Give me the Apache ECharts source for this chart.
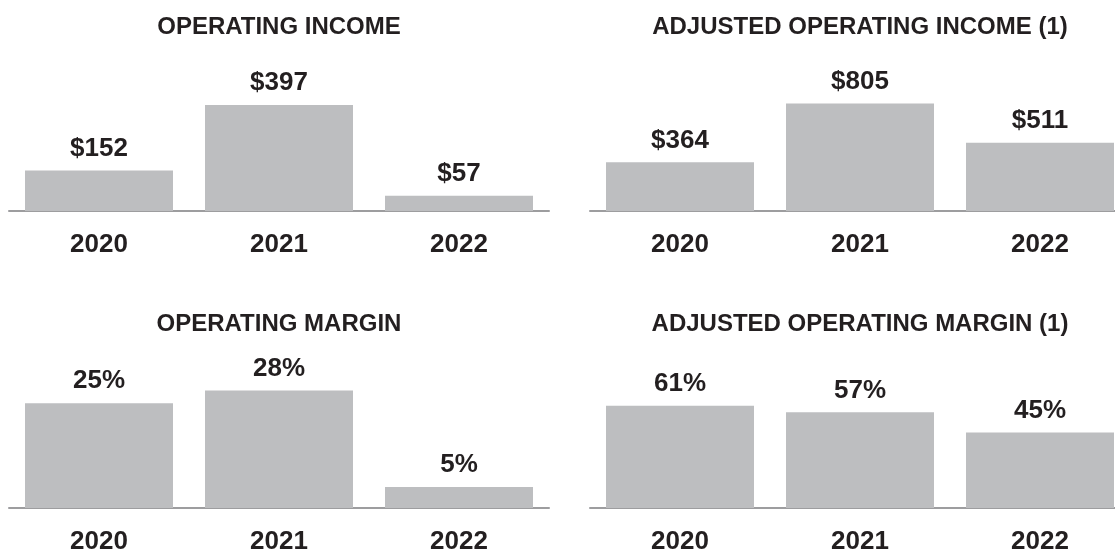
<!DOCTYPE html>
<html>
<head>
<meta charset="utf-8">
<script src="https://cdn.jsdelivr.net/npm/echarts@6/dist/echarts.min.js"></script>
<style>
  html, body { margin: 0; padding: 0; background: #fff; }
  #chart { width: 1115px; height: 552px; }
</style>
</head>
<body>
<div id="chart"></div>
<script>
// data
const years = ['2020', '2021', '2022'];
const operatingIncome = [152, 397, 57];
const adjustedOperatingIncome = [364, 805, 511];
const operatingMargin = [25, 28, 5];
const adjustedOperatingMargin = [61, 57, 45];

const panelTitles = [
  'OPERATING INCOME',
  'ADJUSTED OPERATING INCOME (1)',
  'OPERATING MARGIN',
  'ADJUSTED OPERATING MARGIN (1)'
];

const textColor = '#231f20';
const barColor = '#bdbec0';
const font = 'Liberation Sans, Arial, sans-serif';

const myChart = echarts.init(document.getElementById('chart'));

// 2x2 panels; the right column runs a bit past the page edge like the original
const grids = [
  { left: 9, top: 60, width: 540, height: 151, outerBoundsMode: 'none' },
  { left: 590, top: 60, width: 540, height: 151, outerBoundsMode: 'none' },
  { left: 9, top: 357, width: 540, height: 151, outerBoundsMode: 'none' },
  { left: 590, top: 357, width: 540, height: 151, outerBoundsMode: 'none' }
];
const yMax = [565, 1130, 36, 90];
const titleX = [279, 860, 279, 860];
const titleY = [15, 15, 312, 312];

const seriesData = [operatingIncome, adjustedOperatingIncome, operatingMargin, adjustedOperatingMargin];
const formatters = [
  (p) => '$' + p.value,
  (p) => '$' + p.value,
  (p) => p.value + '%',
  (p) => p.value + '%'
];

const option = {
  animation: false,
  backgroundColor: '#fff',
  title: panelTitles.map((t, i) => ({
    text: t,
    left: titleX[i],
    top: titleY[i],
    textAlign: 'center',
    padding: 0,
    textStyle: {
      fontFamily: font,
      fontSize: 24,
      fontWeight: 'bold',
      color: textColor
    }
  })),
  grid: grids,
  xAxis: grids.map((g, i) => ({
    type: 'category',
    gridIndex: i,
    data: years,
    axisTick: { show: false },
    axisLine: { lineStyle: { color: '#9d9d9f', width: 2 } },
    axisLabel: {
      margin: 21,
      fontFamily: font,
      fontSize: 26,
      fontWeight: 'bold',
      color: textColor
    }
  })),
  yAxis: grids.map((g, i) => ({
    type: 'value',
    gridIndex: i,
    min: 0,
    max: yMax[i],
    show: false,
    splitLine: { show: false }
  })),
  series: seriesData.map((d, i) => ({
    type: 'bar',
    xAxisIndex: i,
    yAxisIndex: i,
    data: d,
    barWidth: 148,
    itemStyle: { color: barColor },
    label: {
      show: true,
      position: 'top',
      distance: 9,
      formatter: formatters[i],
      fontFamily: font,
      fontSize: 26,
      fontWeight: 'bold',
      color: textColor
    }
  }))
};

myChart.setOption(option);
</script>
</body>
</html>
